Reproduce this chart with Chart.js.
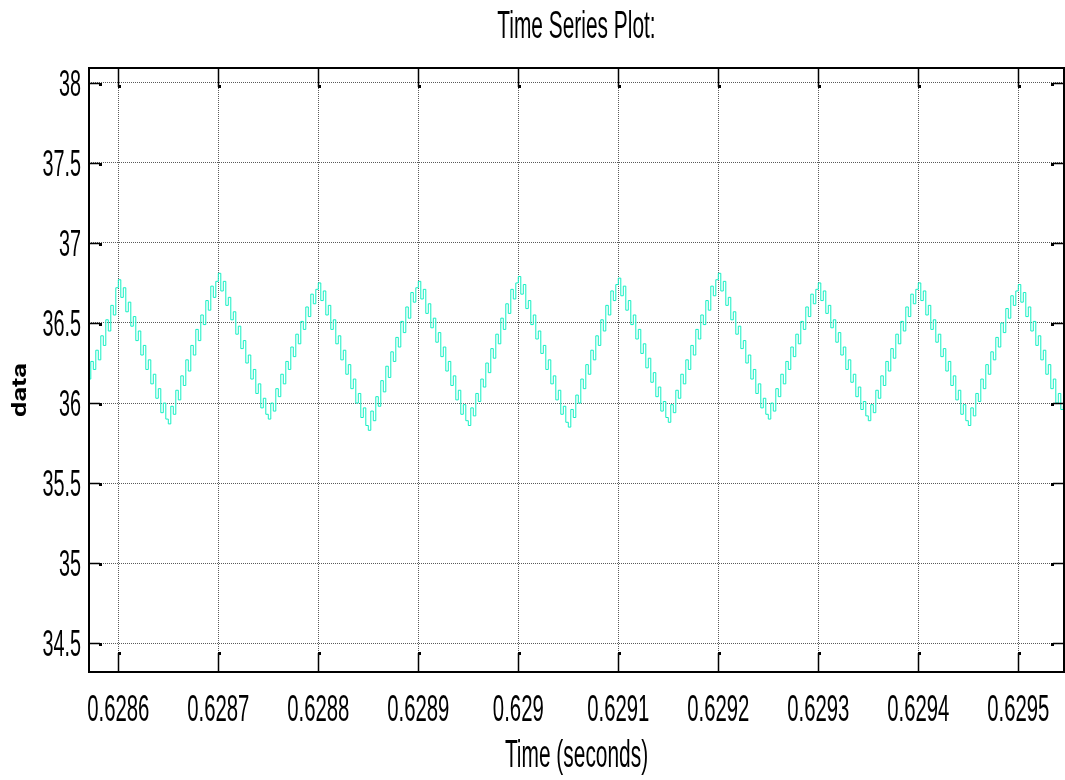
<!DOCTYPE html>
<html lang="en">
<head>
<meta charset="UTF-8">
<title>Time Series Plot</title>
<script src="https://cdn.jsdelivr.net/npm/chart.js"></script>
<style>
  html, body { margin: 0; padding: 0; background: #fff; }
  #wrap { width: 1065px; height: 780px; }
</style>
</head>
<body>
<div id="wrap"><canvas id="tsChart"></canvas></div>
<script>
const startTime = 0.62857;
const sampleStep = 0.0000025;
const signal = [
  36.15, 36.26, 36.21, 36.33, 36.27, 36.42, 36.36, 36.52, 36.45, 36.61, 36.55, 36.72, 36.77,
  36.66, 36.72, 36.57, 36.63, 36.48, 36.54, 36.39, 36.45, 36.30, 36.36, 36.21, 36.27, 36.12, 36.18, 36.03, 36.09, 35.94, 36.00, 35.90, 35.87,
  35.98, 35.93, 36.08, 36.02, 36.17, 36.11, 36.27, 36.20, 36.36, 36.30, 36.46, 36.39, 36.55, 36.49, 36.64, 36.58, 36.73, 36.66, 36.76, 36.81,
  36.70, 36.76, 36.61, 36.66, 36.52, 36.57, 36.43, 36.48, 36.34, 36.39, 36.25, 36.30, 36.15, 36.21, 36.06, 36.12, 35.97, 36.03, 35.93, 35.90,
  36.00, 35.95, 36.09, 36.04, 36.18, 36.12, 36.26, 36.21, 36.35, 36.29, 36.43, 36.37, 36.51, 36.46, 36.60, 36.54, 36.68, 36.62, 36.71, 36.75,
  36.64, 36.70, 36.55, 36.61, 36.46, 36.52, 36.37, 36.42, 36.27, 36.33, 36.18, 36.24, 36.09, 36.15, 36.00, 36.06, 35.91, 35.97, 35.86, 35.83,
  35.95, 35.89, 36.04, 35.98, 36.14, 36.07, 36.23, 36.16, 36.32, 36.26, 36.41, 36.35, 36.51, 36.44, 36.60, 36.53, 36.69, 36.63, 36.72, 36.76,
  36.65, 36.71, 36.56, 36.62, 36.47, 36.53, 36.38, 36.44, 36.29, 36.35, 36.20, 36.26, 36.11, 36.17, 36.02, 36.08, 35.93, 35.99, 35.89, 35.86,
  35.97, 35.92, 36.06, 36.01, 36.15, 36.10, 36.25, 36.19, 36.34, 36.28, 36.43, 36.37, 36.53, 36.46, 36.62, 36.56, 36.71, 36.65, 36.75, 36.79,
  36.68, 36.74, 36.59, 36.64, 36.49, 36.55, 36.40, 36.45, 36.31, 36.36, 36.21, 36.27, 36.12, 36.17, 36.02, 36.08, 35.93, 35.98, 35.88, 35.85,
  35.96, 35.91, 36.05, 36.00, 36.15, 36.09, 36.24, 36.18, 36.33, 36.27, 36.42, 36.36, 36.52, 36.45, 36.61, 36.55, 36.70, 36.64, 36.74, 36.78,
  36.67, 36.73, 36.58, 36.64, 36.49, 36.55, 36.40, 36.46, 36.31, 36.37, 36.22, 36.28, 36.13, 36.19, 36.04, 36.10, 35.95, 36.01, 35.91, 35.88,
  35.99, 35.94, 36.08, 36.03, 36.18, 36.12, 36.27, 36.21, 36.36, 36.30, 36.46, 36.40, 36.55, 36.49, 36.64, 36.58, 36.73, 36.67, 36.77, 36.81,
  36.70, 36.76, 36.61, 36.66, 36.52, 36.57, 36.43, 36.48, 36.34, 36.39, 36.25, 36.30, 36.15, 36.21, 36.06, 36.12, 35.97, 36.03, 35.93, 35.90,
  36.00, 35.95, 36.09, 36.04, 36.18, 36.12, 36.26, 36.21, 36.35, 36.29, 36.43, 36.37, 36.51, 36.46, 36.60, 36.54, 36.68, 36.62, 36.71, 36.75,
  36.64, 36.70, 36.56, 36.61, 36.47, 36.52, 36.38, 36.44, 36.30, 36.35, 36.21, 36.27, 36.13, 36.18, 36.04, 36.10, 35.96, 36.01, 35.92, 35.89,
  35.99, 35.94, 36.08, 36.03, 36.17, 36.11, 36.26, 36.20, 36.34, 36.28, 36.43, 36.37, 36.51, 36.45, 36.60, 36.54, 36.68, 36.62, 36.71, 36.75,
  36.64, 36.70, 36.55, 36.61, 36.46, 36.52, 36.38, 36.43, 36.29, 36.34, 36.20, 36.26, 36.11, 36.17, 36.02, 36.08, 35.93, 35.99, 35.89, 35.86,
  35.97, 35.92, 36.06, 36.01, 36.15, 36.09, 36.24, 36.18, 36.32, 36.27, 36.41, 36.35, 36.50, 36.44, 36.59, 36.53, 36.67, 36.61, 36.70, 36.74,
  36.63, 36.69, 36.54, 36.60, 36.45, 36.51, 36.36, 36.42, 36.27, 36.33, 36.18, 36.24, 36.09, 36.15, 36.00, 36.06, 35.96, 35.98
];

const xTicks = [0.6286, 0.6287, 0.6288, 0.6289, 0.6290, 0.6291, 0.6292, 0.6293, 0.6294, 0.6295];
const xTickLabels = ['0.6286', '0.6287', '0.6288', '0.6289', '0.629', '0.6291', '0.6292', '0.6293', '0.6294', '0.6295'];
const yTicks = [34.5, 35, 35.5, 36, 36.5, 37, 37.5, 38];
const yTickLabels = ['34.5', '35', '35.5', '36', '36.5', '37', '37.5', '38'];

const plotFont = '"Liberation Sans", "DejaVu Sans", sans-serif';

// the picture's text is squeezed sideways, so draw it scaled
function squeezedText(ctx, txt, x, y, align, size) {
  ctx.save();
  ctx.translate(x, y);
  ctx.scale(0.55, 1);
  ctx.font = size + 'px ' + plotFont;
  ctx.textAlign = align;
  ctx.textBaseline = 'alphabetic';
  ctx.fillStyle = '#000';
  ctx.fillText(txt, 0, 0);
  ctx.restore();
}

const scopeFrame = {
  id: 'scopeFrame',
  afterDraw(chart) {
    const ctx = chart.ctx;
    const a = chart.chartArea;
    const xs = chart.scales.x, ys = chart.scales.y;
    ctx.save();
    ctx.strokeStyle = '#000';
    ctx.fillStyle = '#000';
    ctx.lineWidth = 1.5;
    // inward ticks with the little end dots
    xTicks.forEach(v => {
      const px = Math.round(xs.getPixelForValue(v)) + 0.5;
      ctx.beginPath();
      ctx.moveTo(px, a.bottom); ctx.lineTo(px, a.bottom - 19);
      ctx.moveTo(px, a.top); ctx.lineTo(px, a.top + 19);
      ctx.stroke();
      ctx.fillRect(px - 0.5, a.bottom - 20, 3, 3);
      ctx.fillRect(px - 0.5, a.top + 17, 3, 3);
    });
    yTicks.forEach(v => {
      const py = Math.round(ys.getPixelForValue(v)) + 0.5;
      ctx.beginPath();
      ctx.moveTo(a.left, py); ctx.lineTo(a.left + 11, py);
      ctx.moveTo(a.right, py); ctx.lineTo(a.right - 11, py);
      ctx.stroke();
      ctx.fillRect(a.left + 10, py - 0.5, 3, 3);
      ctx.fillRect(a.right - 13, py - 0.5, 3, 3);
    });
    // axes box
    ctx.lineWidth = 2;
    ctx.strokeRect(a.left, a.top, a.right - a.left, a.bottom - a.top);
    ctx.restore();

    xTicks.forEach((v, i) => {
      squeezedText(ctx, xTickLabels[i], xs.getPixelForValue(v), 721, 'center', 37);
    });
    yTicks.forEach((v, i) => {
      squeezedText(ctx, yTickLabels[i], 81, ys.getPixelForValue(v) + 13, 'right', 36);
    });
    const cx = (a.left + a.right) / 2;
    squeezedText(ctx, 'Time Series Plot:', cx, 38, 'center', 38);
    squeezedText(ctx, 'Time (seconds)', cx, 767, 'center', 38);

    // y axis name, rotated and a little stretched along its length
    ctx.save();
    ctx.translate(26, 390);
    ctx.rotate(-Math.PI / 2);
    ctx.scale(1.3, 1);
    ctx.font = '700 21px Roboto, "Open Sans", sans-serif';
    ctx.textAlign = 'center';
    ctx.textBaseline = 'alphabetic';
    ctx.fillStyle = '#000';
    ctx.fillText('data', 0, 0);
    ctx.restore();
  }
};

const points = signal.map((v, i) => ({ x: startTime + i * sampleStep, y: v }));

const ctx = document.getElementById('tsChart').getContext('2d');
new Chart(ctx, {
  type: 'line',
  data: {
    datasets: [{
      label: 'data',
      data: points,
      borderColor: 'rgb(20, 240, 195)',
      borderWidth: 1,
      pointRadius: 0,
      stepped: true,
      fill: false
    }]
  },
  options: {
    responsive: true,
    maintainAspectRatio: false,
    animation: false,
    layout: { padding: { left: 89, top: 68, right: 1, bottom: 108 } },
    plugins: { legend: { display: false }, tooltip: { enabled: false } },
    scales: {
      x: {
        type: 'linear',
        min: 0.6285707,
        max: 0.6295457,
        afterBuildTicks: s => { s.ticks = xTicks.map(v => ({ value: v })); },
        ticks: { display: false },
        grid: { color: '#5a5a5a', lineWidth: 1, drawTicks: false },
        border: { display: false, dash: [1, 1] }
      },
      y: {
        min: 34.321,
        max: 38.092,
        afterBuildTicks: s => { s.ticks = yTicks.map(v => ({ value: v })); },
        ticks: { display: false },
        grid: { color: '#5a5a5a', lineWidth: 1, drawTicks: false },
        border: { display: false, dash: [1, 1] }
      }
    }
  },
  plugins: [scopeFrame]
});
</script>
</body>
</html>
